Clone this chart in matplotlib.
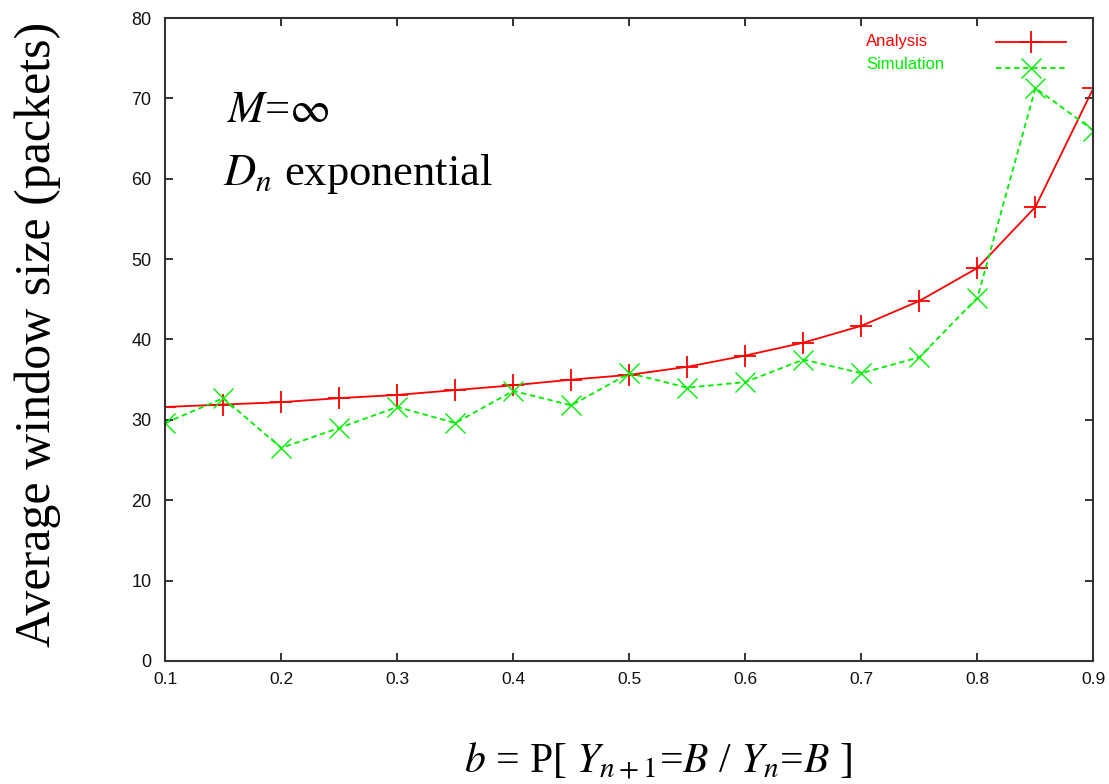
import numpy as np
import matplotlib
matplotlib.use("Agg")
import matplotlib.pyplot as plt
from matplotlib.lines import Line2D

# ── Data ───────────────────────────────────────────────────────
b_values = [0.10, 0.15, 0.20, 0.25, 0.30, 0.35, 0.40, 0.45, 0.50,
            0.55, 0.60, 0.65, 0.70, 0.75, 0.80, 0.85, 0.90]
analysis = [31.6, 31.9, 32.2, 32.7, 33.1, 33.7, 34.3, 35.0, 35.6,
            36.6, 38.0, 39.6, 41.7, 44.8, 48.9, 56.5, 71.3]
simulation = [29.6, 32.7, 26.5, 29.0, 31.6, 29.6, 33.6, 31.8, 35.8,
              34.0, 34.7, 37.5, 35.8, 37.8, 45.2, 71.3, 66.0]
x_ticks = [0.1, 0.2, 0.3, 0.4, 0.5, 0.6, 0.7, 0.8, 0.9]
y_ticks = [0, 10, 20, 30, 40, 50, 60, 70, 80]
series_names = ["Analysis", "Simulation"]

RED = "#ff0000"
GREEN = "#00ee00"
SERIF = "Liberation Serif"
SANS = "Liberation Sans"
plt.rcParams["mathtext.fontset"] = "stix"

fig = plt.figure(figsize=(11.09, 7.84), dpi=100)
ax = fig.add_axes([0.149, 0.157, 0.837, 0.820])

l1, = ax.plot(b_values, analysis, color=RED, lw=1.3, marker="+",
              markersize=16, markeredgewidth=1.3, label=series_names[0])
l2, = ax.plot(b_values, simulation, color=GREEN, lw=1.3, ls=(0, (3, 2)),
              marker="x", markersize=15, markeredgewidth=1.0,
              label=series_names[1])

ax.set_xlim(0.1, 0.9)
ax.set_ylim(0, 80)
ax.set_xticks(x_ticks)
ax.set_yticks(y_ticks)
ax.set_xticklabels([f"{t:.1f}" for t in x_ticks], family=SANS)
ax.set_yticklabels([str(t) for t in y_ticks], family=SANS)
ax.tick_params(direction="in", length=6, width=1.2, top=True, right=True,
               labelsize=13, colors="#111111")
ax.tick_params(axis="y", pad=10)
ax.tick_params(axis="x", pad=8, labelsize=12.5)
for s in ax.spines.values():
    s.set_linewidth(1.5)
    s.set_color("#333333")

# gnuplot-style key: labels left-aligned in one column, samples in another
blank = [Line2D([], [], lw=0), Line2D([], [], lw=0)]
key_text = ax.legend(blank, series_names, loc="upper left",
                     bbox_to_anchor=(0.755, 0.975), frameon=False,
                     fontsize=12, handlelength=0, handletextpad=0,
                     borderaxespad=0, borderpad=0, labelspacing=0.45,
                     labelcolor=[RED, GREEN])
for t in key_text.get_texts():
    t.set_family(SANS)
ax.add_artist(key_text)
ax.legend([l1, l2], ["", ""], loc="upper right",
          bbox_to_anchor=(0.97, 0.975), frameon=False, fontsize=12,
          handlelength=4.2, handletextpad=0, borderaxespad=0, borderpad=0,
          labelspacing=0.45)

ax.text(0.067, 0.838, r"$M$=$\infty$", transform=ax.transAxes,
        fontsize=32, family=SERIF, va="baseline")
ax.text(0.062, 0.740, r"$D_n$ exponential", transform=ax.transAxes,
        fontsize=32, family=SERIF, va="baseline")

fig.text(0.034, 0.573, "Average window size (packets)", rotation=90,
         fontsize=36, family=SERIF, ha="center", va="center")
fig.text(0.593, 0.014, r"$b$ = P[ $Y_{n+1}$=$B$ / $Y_n$=$B$ ]",
         fontsize=30, family=SERIF, ha="center", va="baseline")

fig.savefig("out.png", dpi=100)
